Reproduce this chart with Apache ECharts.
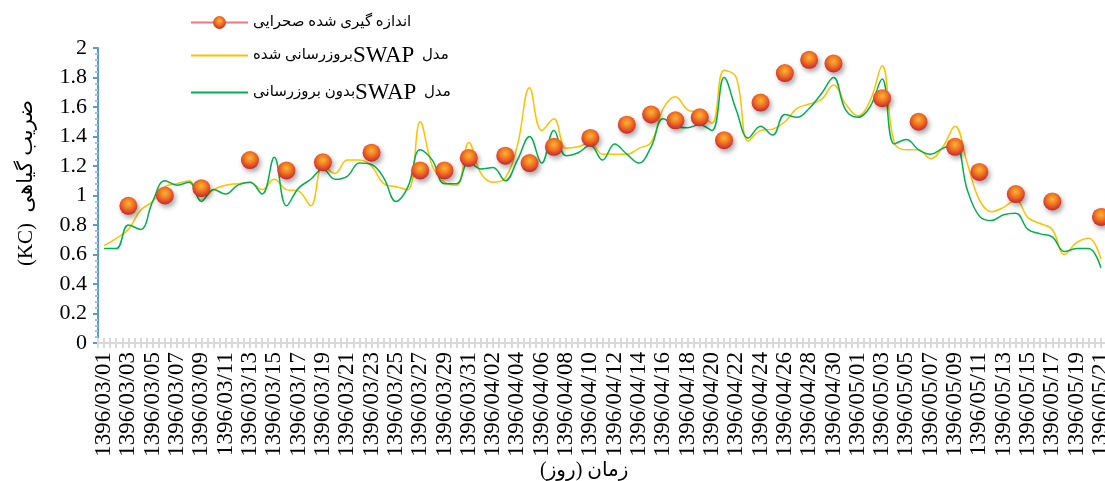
<!DOCTYPE html>
<html>
<head>
<meta charset="utf-8">
<script src="https://cdn.jsdelivr.net/npm/echarts@6/dist/echarts.min.js"></script>
<style>
  html, body { margin: 0; padding: 0; background: #ffffff; }
  #chart { width: 1105px; height: 481px; }
</style>
</head>
<body>
<div id="chart"></div>
<script>
// Daily dates of the season (Persian calendar, months 3-5 of 1396)
const monthNums = ['03', '04', '05'];
const monthDays = [31, 31, 21];
const dates = [];
monthNums.forEach((m, k) => {
  for (let d = 1; d <= monthDays[k]; d++) {
    dates.push('1396/' + m + '/' + String(d).padStart(2, '0'));
  }
});

// Field-measured crop coefficient (sampling days only)
const measuredDates = [
  '1396/03/03', '1396/03/06', '1396/03/09', '1396/03/13', '1396/03/16', '1396/03/19',
  '1396/03/23', '1396/03/27', '1396/03/29', '1396/03/31', '1396/04/03', '1396/04/05',
  '1396/04/07', '1396/04/10', '1396/04/13', '1396/04/15', '1396/04/17', '1396/04/19',
  '1396/04/21', '1396/04/24', '1396/04/26', '1396/04/28', '1396/04/30', '1396/05/03',
  '1396/05/06', '1396/05/09', '1396/05/11', '1396/05/14', '1396/05/17', '1396/05/21'
];
const measuredKc = [
  0.93, 1.00, 1.05, 1.24, 1.17, 1.225,
  1.29, 1.17, 1.17, 1.255, 1.27, 1.22,
  1.33, 1.39, 1.48, 1.55, 1.51, 1.53,
  1.375, 1.63, 1.83, 1.92, 1.895, 1.66,
  1.50, 1.33, 1.16, 1.01, 0.96, 0.855
];

// SWAP model, calibrated (daily)
const swapCalibrated = [
  0.66, 0.71, 0.77, 0.90, 0.96, 1.06, 1.08, 1.10, 0.97, 1.04,
  1.07, 1.08, 1.09, 1.04, 1.11, 1.04, 1.03, 0.93, 1.20, 1.15,
  1.24, 1.24, 1.20, 1.08, 1.06, 1.04, 1.50, 1.20, 1.09, 1.07,
  1.36, 1.15, 1.09, 1.12, 1.34, 1.73, 1.44, 1.52, 1.32, 1.33,
  1.36, 1.28, 1.28, 1.28, 1.32, 1.36, 1.59, 1.67, 1.58, 1.56,
  1.49, 1.85, 1.80, 1.37, 1.44, 1.45, 1.50, 1.59, 1.62, 1.65,
  1.75, 1.62, 1.54, 1.64, 1.88, 1.36, 1.31, 1.31, 1.25, 1.33,
  1.47, 1.22, 0.97, 0.89, 0.92, 0.97, 0.85, 0.81, 0.77, 0.60,
  0.68, 0.71, 0.57
];

// SWAP model, uncalibrated (daily)
const swapUncalibrated = [
  0.64, 0.64, 0.80, 0.77, 0.96, 1.10, 1.07, 1.09, 0.96, 1.04,
  1.01, 1.07, 1.09, 1.01, 1.26, 0.93, 1.05, 1.11, 1.18, 1.11,
  1.13, 1.22, 1.21, 1.12, 0.96, 1.06, 1.31, 1.24, 1.08, 1.08,
  1.23, 1.18, 1.19, 1.10, 1.24, 1.40, 1.22, 1.44, 1.27, 1.29,
  1.34, 1.24, 1.35, 1.28, 1.22, 1.33, 1.52, 1.47, 1.46, 1.48,
  1.44, 1.80, 1.58, 1.39, 1.47, 1.41, 1.55, 1.53, 1.59, 1.69,
  1.80, 1.58, 1.53, 1.60, 1.79, 1.35, 1.38, 1.31, 1.28, 1.32,
  1.35, 1.04, 0.86, 0.83, 0.87, 0.88, 0.77, 0.74, 0.72, 0.62,
  0.64, 0.64, 0.51
];

// Series names (Persian)
const nameMeasured = 'اندازه گیری شده صحرایی';
const nameCalibrated = 'مدل  SWAPبروزرسانی شده';
const nameUncalibrated = 'مدل  SWAPبدون بروزرسانی';

// Legend labels laid out left to right as rich-text runs
const legendRuns = {};
legendRuns[nameMeasured] = '{fa|اندازه گیری شده صحرایی}';
legendRuns[nameCalibrated] = '{fa|بروزرسانی شده}{en|SWAP}{fa|  مدل}';
legendRuns[nameUncalibrated] = '{fa|بدون بروزرسانی}{en|SWAP}{fa|  مدل}';

// Axis titles, wrapped in a right-to-left embedding
const rtl = s => '\u202B' + s + '\u202C';
const yTitle = rtl('ضریب گیاهی  (KC)');
const xTitle = rtl('زمان (روز)');

// Measured points placed on the daily category axis
const measuredSeries = dates.map(() => null);
measuredDates.forEach((d, k) => { measuredSeries[dates.indexOf(d)] = measuredKc[k]; });

const serif = '"Liberation Serif", "Times New Roman", "DejaVu Sans", serif';
const tickGray = '#d9d9d9';

const sphere = {
  type: 'radial', x: 0.5, y: 0.38, r: 0.62,
  colorStops: [
    { offset: 0, color: '#fbb43a' },
    { offset: 0.45, color: '#f07a1e' },
    { offset: 0.85, color: '#d93a30' },
    { offset: 1, color: '#b8282c' }
  ]
};

// Tick-only axes drawn across the axis line (band edges and band centres)
const tickAxis = (alignCentre) => ({
  type: 'category',
  data: dates,
  position: 'bottom',
  offset: -5,
  axisLine: { show: false },
  axisTick: { show: true, interval: 0, alignWithLabel: alignCentre, length: 10,
              lineStyle: { color: tickGray, width: 2 } },
  axisLabel: { show: false },
  splitLine: { show: false }
});

const chart = echarts.init(document.getElementById('chart'), null, { renderer: 'canvas' });
chart.setOption({
  animation: false,
  backgroundColor: '#ffffff',
  grid: { left: 98, top: 48, width: 1009, height: 295, containLabel: false, outerBoundsMode: 'none' },
  legend: {
    orient: 'vertical',
    left: 185,
    top: 10,
    itemWidth: 57,
    itemHeight: 16,
    itemGap: 14,
    data: [
      { name: nameMeasured },
      { name: nameCalibrated, itemStyle: { opacity: 0 } },
      { name: nameUncalibrated, itemStyle: { opacity: 0 } }
    ],
    formatter: name => legendRuns[name],
    textStyle: {
      color: '#000',
      rich: {
        fa: { fontFamily: serif, fontSize: 15, color: '#000' },
        en: { fontFamily: serif, fontSize: 23, color: '#000' }
      }
    }
  },
  xAxis: [
    {
      type: 'category',
      data: dates,
      boundaryGap: true,
      axisLine: { lineStyle: { color: tickGray, width: 2 } },
      axisTick: { show: false },
      axisLabel: {
        interval: 1,
        rotate: 90,
        margin: 9,
        fontFamily: serif,
        fontSize: 23,
        color: '#000'
      },
      splitLine: { show: false }
    },
    tickAxis(false),
    tickAxis(true)
  ],
  yAxis: {
    type: 'value',
    min: 0,
    max: 2,
    interval: 0.2,
    axisLine: { show: true, lineStyle: { color: '#5b9bd5', width: 2 } },
    axisTick: { show: true, length: 5, lineStyle: { color: '#5b9bd5', width: 2 } },
    minorTick: { show: true, splitNumber: 5, length: 3, lineStyle: { color: '#9dc3e6', width: 2 } },
    axisLabel: { fontFamily: serif, fontSize: 22, color: '#000', margin: 11 },
    splitLine: { show: false }
  },
  graphic: [
    {
      type: 'text',
      x: 26,
      y: 183,
      rotation: Math.PI / 2,
      style: { text: yTitle, font: '21px ' + serif, fill: '#000', align: 'center', verticalAlign: 'middle' }
    },
    {
      type: 'text',
      left: 540,
      top: 461,
      style: { text: xTitle, font: '20px ' + serif, fill: '#000' }
    }
  ],
  series: [
    {
      name: nameCalibrated,
      type: 'line',
      data: swapCalibrated,
      smooth: 0.4,
      symbol: 'none',
      lineStyle: { color: '#ffc000', width: 1.5 },
      itemStyle: { color: '#ffc000' },
      z: 2
    },
    {
      name: nameUncalibrated,
      type: 'line',
      data: swapUncalibrated,
      smooth: 0.4,
      symbol: 'none',
      lineStyle: { color: '#00b050', width: 1.5 },
      itemStyle: { color: '#00b050' },
      z: 3
    },
    {
      name: nameMeasured,
      type: 'line',
      data: measuredSeries,
      connectNulls: false,
      showAllSymbol: true,
      symbol: 'circle',
      symbolSize: 18,
      lineStyle: { color: '#f4777c', width: 2 },
      itemStyle: {
        color: sphere,
        shadowColor: 'rgba(0,0,0,0.35)',
        shadowBlur: 5,
        shadowOffsetX: 2,
        shadowOffsetY: 3
      },
      z: 4
    }
  ]
});
</script>
</body>
</html>
